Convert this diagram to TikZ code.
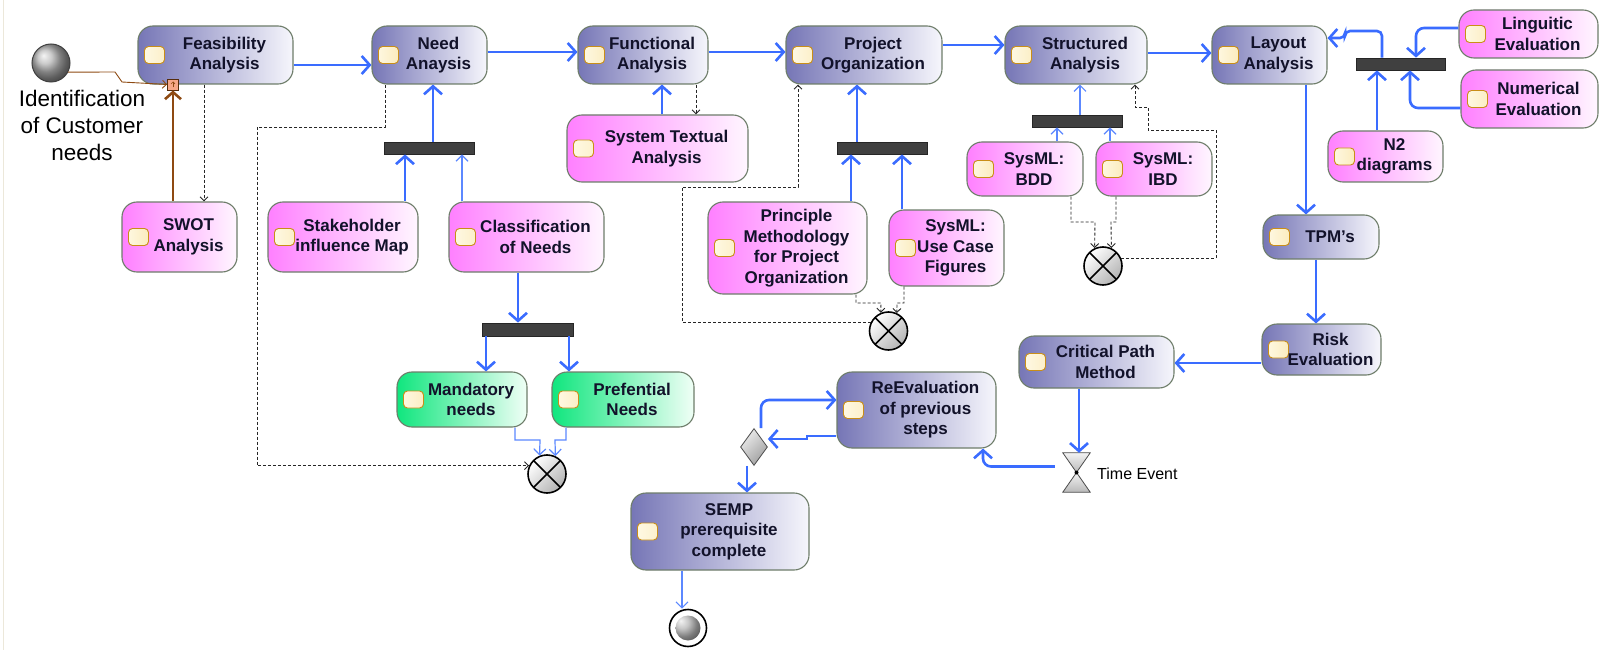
\documentclass[tikz,border=0pt]{standalone}
\usepackage{fontspec}
\setmainfont{Liberation Sans}
\usetikzlibrary{arrows.meta,shapes.geometric}

\definecolor{flowblue}{HTML}{3A6CFF}
\definecolor{flowthin}{HTML}{5C88FF}
\definecolor{boxline}{HTML}{6E7D6A}
\definecolor{actL}{HTML}{7676B6}
\definecolor{actR}{HTML}{F6F6FC}
\definecolor{pinkL}{HTML}{FF80FF}
\definecolor{pinkR}{HTML}{FFF6FF}
\definecolor{greenL}{HTML}{10E67E}
\definecolor{greenR}{HTML}{F0FFF6}
\definecolor{barfill}{HTML}{404040}
\definecolor{brownln}{HTML}{8E4A12}
\definecolor{pinL}{HTML}{FFFBEA}
\definecolor{pinR}{HTML}{EDB82C}
\definecolor{pinline}{HTML}{C98E18}
\definecolor{txtcol}{HTML}{12122A}
\definecolor{pinsqfill}{HTML}{F6A888}
\definecolor{edgeline}{HTML}{ECE8DA}

\tikzset{
  actbase/.style={draw=boxline, line width=1.1pt, rounded corners=15pt, inner sep=0pt,
    path picture={\path[draw=pinline, line width=0.9pt, rounded corners=4pt,
        left color=pinL, right color=pinR]
        ([xshift=6.5pt,yshift=-8.5pt]path picture bounding box.west) rectangle ++(20pt,17pt);}},
  act/.style={actbase, left color=actL, right color=actR},
  inp/.style={actbase, left color=pinkL, right color=pinkR},
  outp/.style={actbase, left color=greenL, right color=greenR},
  txt/.style={font=\bfseries\fontsize{17}{20.5}\selectfont, text=txtcol, align=center, inner sep=0pt},
  bar/.style={draw=black!85, fill=barfill, line width=0.8pt, inner sep=0pt},
  tflow/.style={draw=flowblue, line width=2.6pt, -{Straight Barb[length=8pt,width=18pt]}},
  nflow/.style={draw=flowthin, line width=1.2pt, -{Straight Barb[length=6pt,width=12pt]}},
  dep/.style={draw=black!85, line width=0.9pt, dash pattern=on 3pt off 2pt,
    -{Straight Barb[length=4pt,width=8pt]}},
  brownthick/.style={draw=brownln, line width=2.6pt, -{Straight Barb[length=7pt,width=16pt]}},
  brownthin/.style={draw=brownln, line width=0.9pt, -{Straight Barb[length=4pt,width=8pt]}},
  ffinal/.style={circle, draw=black, line width=1.6pt, minimum size=38pt, inner sep=0pt,
    top color=white, bottom color=gray!60, shading angle=45,
    path picture={\draw[line width=1.6pt]
        (path picture bounding box.north west) -- (path picture bounding box.south east)
        (path picture bounding box.north east) -- (path picture bounding box.south west);}},
  initnode/.style={circle, draw=black!75, line width=1pt, minimum size=38pt, inner sep=0pt,
    shading=ball, ball color=gray!55!white},
  endnode/.style={circle, draw=black, line width=1.6pt, minimum size=37pt, inner sep=0pt, fill=white,
    path picture={\shade[ball color=gray!60!white] (path picture bounding box.center) circle (12.5pt);}},
  decision/.style={diamond, draw=black!70, line width=0.8pt, minimum width=27pt, minimum height=37pt,
    inner sep=0pt, top color=gray!15, bottom color=gray!75, shading angle=45},
  pinsq/.style={rectangle, draw=brownln!60!black, fill=pinsqfill, line width=0.9pt,
    minimum size=11pt, inner sep=0pt},
  hglass/.style={draw=black!70, line width=0.8pt, top color=gray!10, bottom color=gray!55},
  plain/.style={inner sep=0pt, align=center, text=black}
}

% activity box: style, name, x1, y1, x2, y2, label
\newcommand\UMLact[7]{%
  \node[#1, minimum width={#5-#3}, minimum height={#6-#4}] (#2) at ({(#3+#5)/2},{(#4+#6)/2}) {};
  \node[txt] (#2-t) at ([xshift=9pt]#2.center) {#7};}
% fork / join bar: name, x1, y1, x2, y2
\newcommand\UMLbar[5]{%
  \node[bar, minimum width={#4-#2}, minimum height={#5-#3}] (#1) at ({(#2+#4)/2},{(#3+#5)/2}) {};}

\begin{document}
\begin{tikzpicture}[x=1pt,y=-1pt]
\useasboundingbox (0,0) rectangle (1599,650);
\fill[white] (0,0) rectangle (1599,650);
\draw[edgeline, line width=1pt] (3.5,0) -- (3.5,650);

% ---- main chain ----
\UMLact{act}{feas}{138}{26}{293}{84}{Feasibility\\Analysis}
\UMLact{act}{need}{372}{26}{487}{84}{Need\\Anaysis}
\UMLact{act}{func}{578}{26}{708}{84}{Functional\\Analysis}
\UMLact{act}{porg}{786}{26}{942}{84}{Project\\Organization}
\UMLact{act}{struct}{1005}{26}{1147}{84}{Structured\\Analysis}
\UMLact{act}{layout}{1212}{26}{1327}{84}{Layout\\Analysis}
\UMLact{act}{tpm}{1263}{215}{1379}{259}{TPM's}
\UMLact{act}{risk}{1262}{324}{1381}{375}{Risk\\Evaluation}
\UMLact{act}{cpm}{1019}{336}{1174}{388}{Critical Path\\Method}
\UMLact{act}{reeval}{837}{372}{996}{448}{ReEvaluation\\of previous\\steps}
\UMLact{act}{semp}{631}{493}{809}{570}{SEMP\\prerequisite\\complete}

% ---- inputs ----
\UMLact{inp}{swot}{122}{202}{237}{272}{SWOT\\Analysis}
\UMLact{inp}{stake}{268}{202}{418}{272}{Stakeholder\\influence Map}
\UMLact{inp}{classif}{449}{202}{604}{272}{Classification\\of Needs}
\UMLact{inp}{sta}{567}{115}{748}{182}{System Textual\\Analysis}
\UMLact{inp}{princ}{708}{202}{867}{294}{Principle\\Methodology\\for Project\\Organization}
\UMLact{inp}{usecase}{889}{210}{1004}{286}{SysML:\\Use Case\\Figures}
\UMLact{inp}{bdd}{967}{142}{1083}{196}{SysML:\\BDD}
\UMLact{inp}{ibd}{1096}{142}{1212}{196}{SysML:\\IBD}
\UMLact{inp}{n2}{1328}{131}{1443}{182}{N2\\diagrams}
\UMLact{inp}{ling}{1459}{10}{1598}{58}{Linguitic\\Evaluation}
\UMLact{inp}{num}{1461}{70}{1598}{128}{Numerical\\Evaluation}

% ---- outputs ----
\UMLact{outp}{mand}{397}{372}{527}{427}{Mandatory\\needs}
\UMLact{outp}{pref}{552}{372}{694}{427}{Prefential\\Needs}

% ---- bars ----
\UMLbar{bar1}{384}{142}{474}{154}
\UMLbar{bar2}{837}{142}{927}{154}
\UMLbar{bar3}{1032}{115}{1122}{127}
\UMLbar{bar4}{1356}{58}{1445}{70}
\UMLbar{bar5}{482}{323}{573}{336}

% ---- control nodes ----
\node[initnode] (init) at (51,63) {};
\node[plain, font=\fontsize{22.5}{27}\selectfont] (initlbl) at (82,125) {Identification\\of Customer\\needs};
\node[pinsq] (feaspin) at (173,84.5) {};
\draw[brownln, line width=0.6pt, -{Straight Barb[length=2pt,width=4pt]}]
  ([yshift=-3pt]feaspin.center) -- ([yshift=3pt]feaspin.center);
\node[ffinal] (ff1) at (547,474) {};
\node[ffinal] (ff2) at (888.5,331) {};
\node[ffinal] (ff3) at (1103,266) {};
\node[decision] (dec) at (754,447) {};
\node[endnode] (final) at (688,628) {};
\node[inner sep=0pt, minimum width=27pt, minimum height=39pt] (timeev) at (1076.5,472.5) {};
\path[hglass] (timeev.north west) -- (timeev.north east) -- (timeev.center) -- cycle;
\path[hglass] (timeev.south west) -- (timeev.south east) -- (timeev.center) -- cycle;
\fill (timeev.center) circle (2pt);
\node[anchor=west, inner sep=0pt, font=\fontsize{16}{19}\selectfont] (timelbl) at (1097,474) {Time Event};

% ---- control flows ----
\draw[tflow] (feas.east |- 0,65) -- (need.west |- 0,65);
\draw[tflow] (need.east |- 0,52) -- (func.west |- 0,52);
\draw[tflow] (func.east |- 0,52) -- (porg.west |- 0,52);
\draw[tflow] (porg.east |- 0,45) -- (struct.west |- 0,45);
\draw[tflow] (struct.east |- 0,53) -- (layout.west |- 0,53);

\draw[tflow] (bar1.north -| 433,0) -- (need.south -| 433,0);
\draw[tflow] (stake.north -| 405,0) -- (bar1.south -| 405,0);
\draw[nflow] (classif.north -| 462,0) -- (bar1.south -| 462,0);
\draw[tflow] (sta.north -| 662,0) -- (func.south -| 662,0);

\draw[brownthick] (swot.north -| feaspin) -- (feaspin.south);
\draw[brownthin] (init.-28) -- (115,72) -- (122,82) -- (feaspin.west);

\draw[tflow] (bar2.north -| 857,0) -- (porg.south -| 857,0);
\draw[tflow] (princ.north -| 851,0) -- (bar2.south -| 851,0);
\draw[tflow] (usecase.north -| 902,0) -- (bar2.south -| 902,0);

\draw[nflow] (bar3.north -| 1080,0) -- (struct.south -| 1080,0);
\draw[nflow] (bdd.north -| 1057,0) -- (bar3.south -| 1057,0);
\draw[nflow] (ibd.north -| 1110,0) -- (bar3.south -| 1110,0);

\draw[tflow, rounded corners=5pt] (bar4.north -| 1382,0) |- (1345,31) -- (1345,38) -- (layout.east |- 0,38);
\draw[tflow, rounded corners=8pt] (ling.west |- 0,28) -| (bar4.north -| 1416,0);
\draw[tflow, rounded corners=8pt] (num.west |- 0,108) -| (bar4.south -| 1410,0);
\draw[tflow] (n2.north -| 1377,0) -- (bar4.south -| 1377,0);

\draw[tflow] (layout.south -| 1306,0) -- (tpm.north -| 1306,0);
\draw[tflow] (tpm.south -| 1316,0) -- (risk.north -| 1316,0);
\draw[tflow] (risk.west |- 0,363) -- (cpm.east |- 0,363);
\draw[tflow] (cpm.south -| 1079,0) -- (timeev.north -| 1079,0);
\draw[tflow, rounded corners=8pt] ([xshift=-8pt,yshift=6pt]timeev.west) -| (reeval.south -| 983,0);
\draw[tflow] (reeval.west |- 0,436) -| (807,439) -- (dec.east |- 0,439);
\draw[tflow, rounded corners=8pt] (dec.north -| 761,0) |- (reeval.west |- 0,400);
\draw[tflow] (dec.south -| 747,0) -- (semp.north -| 747,0);
\draw[nflow] (semp.south -| 682,0) -- (final.north -| 682,0);

\draw[tflow] (classif.south -| 518,0) -- (bar5.north -| 518,0);
\draw[tflow] (bar5.south -| 486,0) -- (mand.north -| 486,0);
\draw[tflow] (bar5.south -| 569,0) -- (pref.north -| 569,0);
\draw[nflow] (mand.south -| 515,0) |- (540,440) -- (ff1.112);
\draw[nflow] (pref.south -| 566,0) |- (555,440) -- (ff1.65);

% ---- dependencies ----
\draw[dep] (feas.south -| 204,0) -- (swot.north -| 204,0);
\draw[dep] (func.south -| 696,0) -- (sta.north -| 696,0);
\draw[dep] (need.south -| 385,0) |- (257,127) |- (ff1.155);
\draw[dep] (princ.south -| 856,0) |- (881,303) -- (ff2.113);
\draw[dep] (usecase.south -| 904,0) |- (897,303) -- (ff2.65);
\draw[dep] (ff2.155) -| (682,187) -| (porg.south -| 798,0);
\draw[dep] (bdd.south -| 1071,0) |- (1095,222) -- (ff3.115);
\draw[dep] (ibd.south -| 1116,0) |- (1111,222) -- (ff3.65);
\draw[dep] (ff3.22) -| (1216,130) -| (1148,107) -| (struct.south -| 1135,0);
\end{tikzpicture}
\end{document}
